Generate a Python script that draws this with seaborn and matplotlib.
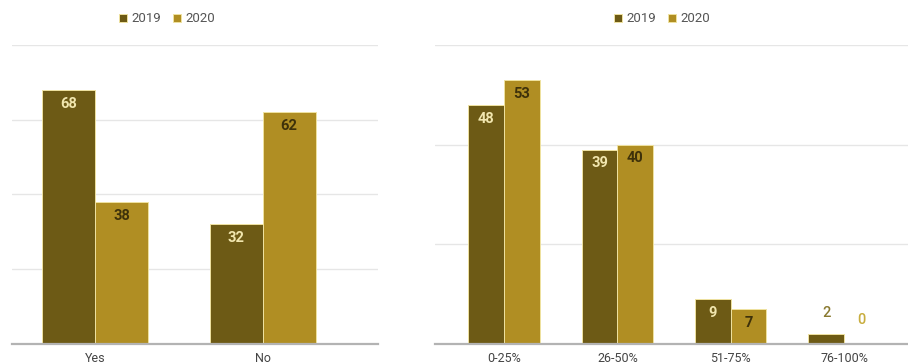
import numpy as np
import pandas as pd
import matplotlib
matplotlib.use("Agg")
import matplotlib.pyplot as plt
import seaborn as sns

# Survey answers, share of respondents (%)
years = ["2019", "2020"]
q1_categories = ["Yes", "No"]
q1_2019 = [68, 32]
q1_2020 = [38, 62]

q2_categories = ["0-25%", "26-50%", "51-75%", "76-100%"]
q2_2019 = [48, 39, 9, 2]
q2_2020 = [53, 40, 7, 0]

colors = {"2019": "#6d5a15", "2020": "#b08e23"}
inside_text = {"2019": "#f1e6ae", "2020": "#3e310a"}
outside_text = {"2019": "#8a7a30", "2020": "#c8ad3e"}

sns.set_theme(style="white")
plt.rcParams["font.family"] = ["Roboto", "DejaVu Sans"]


def long_frame(cats, v19, v20):
    return pd.DataFrame({
        "category": cats * 2,
        "year": ["2019"] * len(cats) + ["2020"] * len(cats),
        "value": list(v19) + list(v20),
    })


fig = plt.figure(figsize=(9.08, 3.64), dpi=100)
ax1 = fig.add_axes([12 / 908, 20.3 / 364, 366 / 908, 298.7 / 364])
ax2 = fig.add_axes([435 / 908, 20.3 / 364, 473 / 908, 298.7 / 364])

panels = [
    (ax1, long_frame(q1_categories, q1_2019, q1_2020), q1_categories, 80, (-0.497, 1.688), 167 / 908),
    (ax2, long_frame(q2_categories, q2_2019, q2_2020), q2_categories, 60, (-0.609, 3.565), 662 / 908),
]

for ax, df, cats, ymax, xlim, legx in panels:
    sns.barplot(data=df, x="category", y="value", hue="year", order=cats,
                hue_order=years, palette=colors, saturation=1, width=0.63, gap=0,
                edgecolor="#efe2a0", linewidth=0.7, ax=ax)
    ax.set_ylim(0, ymax)
    ax.set_xlim(*xlim)
    ax.set_yticks(np.arange(0, ymax + 1, 20))
    ax.yaxis.grid(True, color="#e6e6e6", linewidth=1)
    ax.set_axisbelow(True)
    ax.set_yticklabels([])
    ax.tick_params(axis="y", length=0)
    ax.tick_params(axis="x", length=0, pad=6, labelsize=9, labelcolor="#444444")
    ax.set_xlabel("")
    ax.set_ylabel("")
    for side in ["top", "right", "left"]:
        ax.spines[side].set_visible(False)
    ax.spines["bottom"].set_color("#b3b3b3")
    ax.spines["bottom"].set_linewidth(1.6)

    for year, container in zip(years, ax.containers):
        for bar in container:
            h = bar.get_height()
            xc = bar.get_x() + bar.get_width() / 2
            label = f"{h:.0f}"
            if h >= 5:
                ax.annotate(label, (xc, h), xytext=(0, -10), textcoords="offset points",
                            ha="center", va="center", fontsize=10.5, fontweight="bold",
                            color=inside_text[year])
            else:
                off = 15 if year == "2019" else 17
                ax.annotate(label, (xc, h), xytext=(0, off), textcoords="offset points",
                            ha="center", va="center", fontsize=10.5, fontweight="medium",
                            color=outside_text[year])

    handles, labels = ax.get_legend_handles_labels()
    ax.get_legend().remove()
    fig.legend(handles, labels, loc="center", bbox_to_anchor=(legx, 1 - 19 / 364),
               ncol=2, frameon=False, fontsize=9.5, labelcolor="#555555",
               handlelength=0.6, handleheight=0.6, handletextpad=0.35,
               columnspacing=0.9)

fig.savefig("out.png", dpi=100)
